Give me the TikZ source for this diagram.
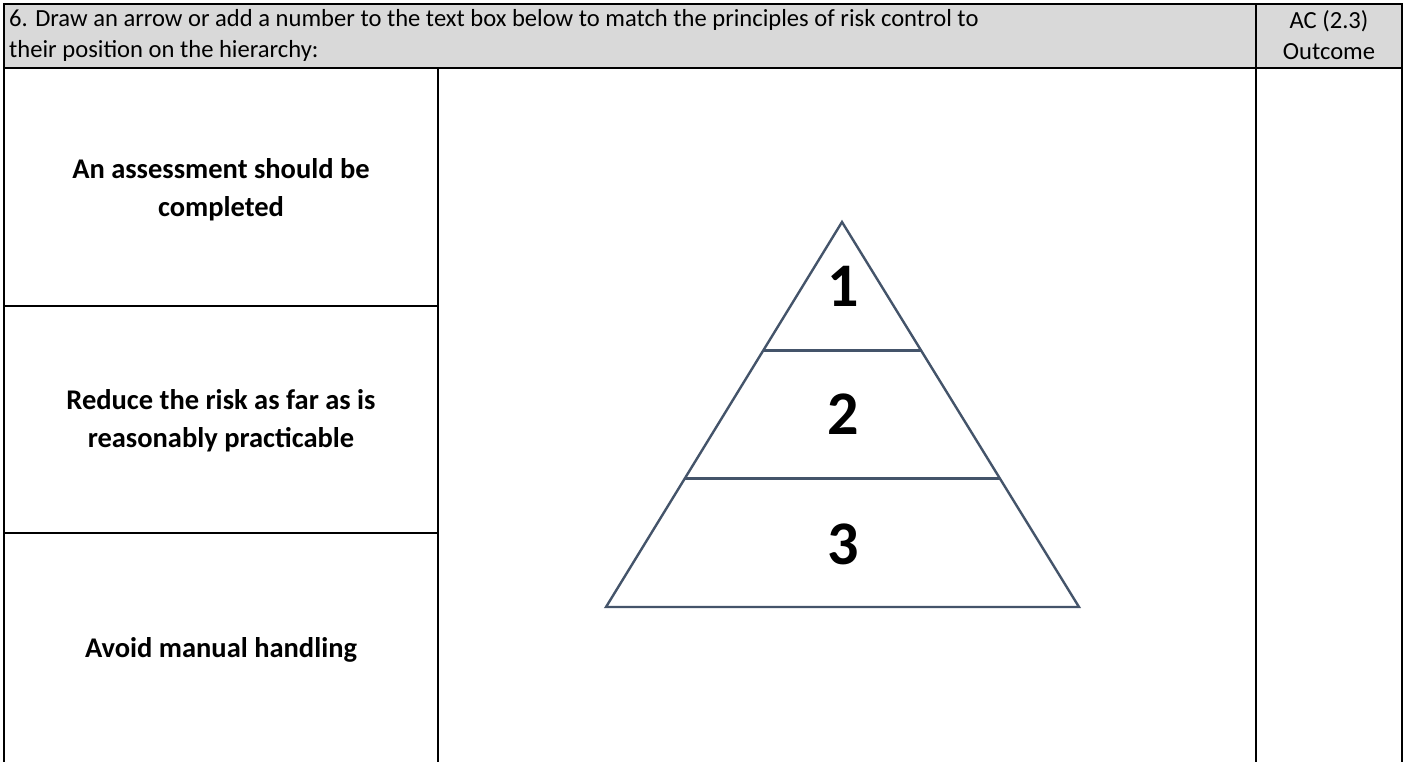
\documentclass[tikz,border=0pt]{standalone}
\usepackage{fontspec}
\setmainfont{Carlito}
\usepackage{tikz}
\definecolor{headgray}{RGB}{217,217,217}
\definecolor{slateline}{RGB}{68,84,106}
\usetikzlibrary{calc}

\begin{document}
\begin{tikzpicture}[x=1pt, y=-1pt,
					rule/.style={draw=black, line width=2.6pt},
					tier/.style={draw=slateline, line width=2.4pt, line join=miter},
					headtext/.style={font=\fontsize{24.6}{31}\selectfont, inner sep=0pt},
					celltext/.style={font=\fontsize{28.5}{38}\selectfont\bfseries, align=center, inner sep=0pt},
					tiernum/.style={font=\fontsize{62}{62}\selectfont\bfseries, inner sep=0pt}]
					\useasboundingbox (0,0) rectangle (1407,762);
					\fill[white] (0,0) rectangle (1407,762);
					% header row
					\fill[headgray] (4,4) rectangle (1402,68);
					\node[headtext, anchor=west, align=left] (question) at (9,35) {6. Draw an arrow or add a number to the text box below to match the principles of risk control to\\their position on the hierarchy:};
					\node[headtext, align=center] (outcome) at (1329,35) {AC (2.3)\\Outcome};
					% table rules
					\draw[rule] (4,762) -- (4,4) -- (1402,4) -- (1402,762);
					\draw[rule] (4,68) -- (1402,68);
					\draw[rule] (1256,4) -- (1256,762);
					\draw[rule] (438,68) -- (438,762);
					\draw[rule] (4,306) -- (438,306);
					\draw[rule] (4,533) -- (438,533);
					% principles
					\node[celltext] (assess) at (221,190) {An assessment should be\\completed};
					\node[celltext] (reduce) at (221,421) {Reduce the risk as far as is\\reasonably practicable};
					\node[celltext] (avoid) at (221,650) {Avoid manual handling};
					% hierarchy
					\coordinate (apex) at (842,222);
					\coordinate (baseL) at (606,607);
					\coordinate (baseR) at (1079,607);
					\coordinate (oneL) at ($(apex)!1/3!(baseL)$);
					\coordinate (oneR) at ($(apex)!1/3!(baseR)$);
					\coordinate (twoL) at ($(apex)!2/3!(baseL)$);
					\coordinate (twoR) at ($(apex)!2/3!(baseR)$);
					\draw[tier] (apex) -- (baseR) -- (baseL) -- cycle;
					\draw[tier] (oneL) -- (oneR);
					\draw[tier] (twoL) -- (twoR);
					\node[tiernum] (num1) at (843,286) {1};
					\node[tiernum] (num2) at (843,414) {2};
					\node[tiernum] (num3) at (843,544) {3};
\end{tikzpicture}
\end{document}
